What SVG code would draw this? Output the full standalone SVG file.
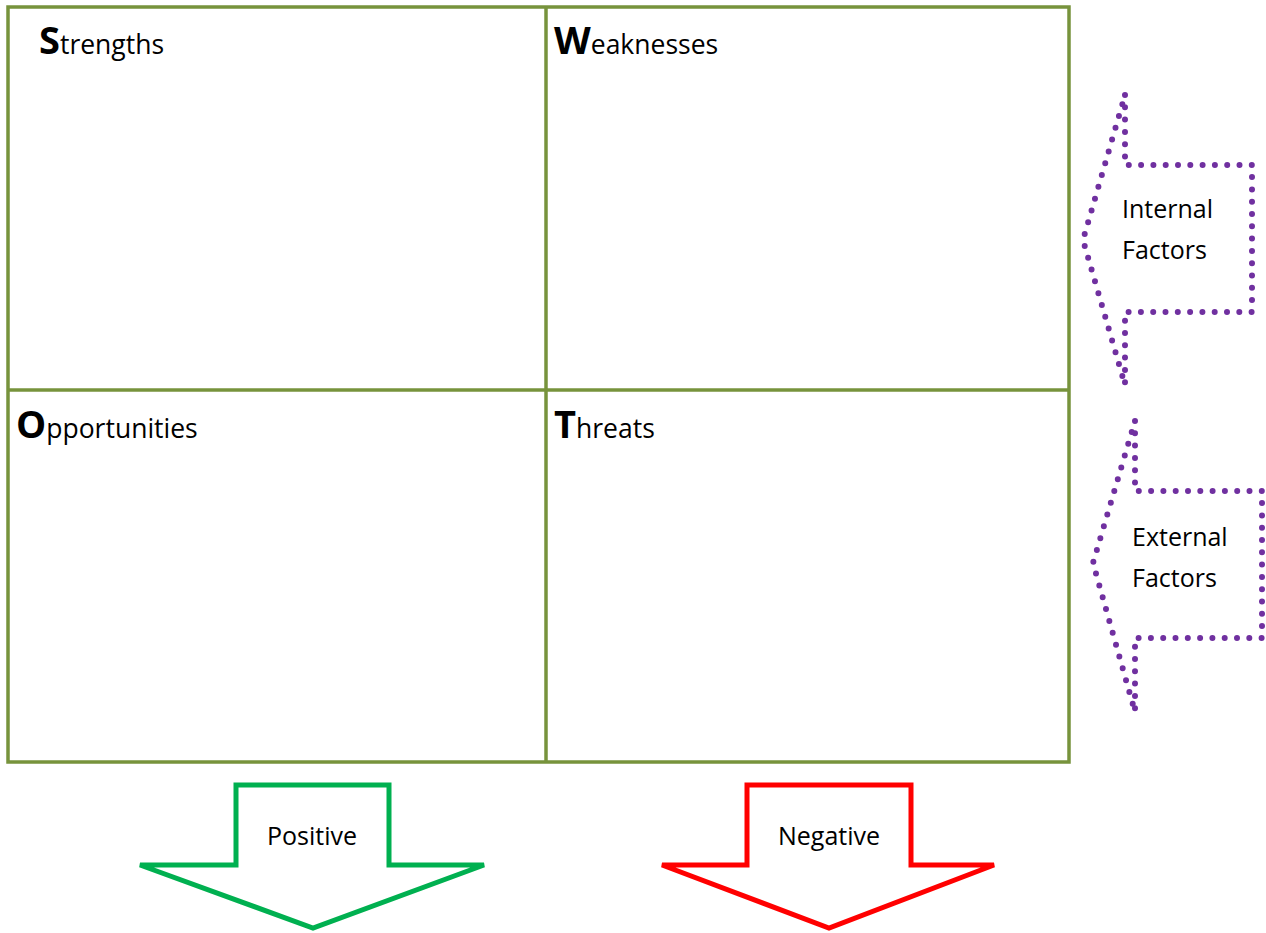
<svg xmlns="http://www.w3.org/2000/svg" width="1266" height="933" viewBox="0 0 1266 933">
<style>
.grid{fill:none;stroke:#77933C;stroke-width:3.5}
.big{font-family:"Open Sans","Liberation Sans",sans-serif;font-weight:bold;font-size:38px;fill:#000}
.lab{font-family:"Open Sans","Liberation Sans",sans-serif;font-size:26.5px;fill:#000}
.small{font-family:"Open Sans","Liberation Sans",sans-serif;font-size:25px;fill:#000}
.dot{fill:none;stroke:#7030A0;stroke-width:6;stroke-linecap:round;stroke-linejoin:round;stroke-dasharray:0 12.3}
.pos{fill:#fff;stroke:#00B050;stroke-width:5;stroke-linejoin:miter}
.neg{fill:#fff;stroke:#FF0000;stroke-width:5;stroke-linejoin:miter}
</style>
<rect width="1266" height="933" fill="#fff"/>
<g id="grid">
<rect class="grid" x="8" y="7" width="1061" height="755"/>
<line class="grid" x1="546" y1="7" x2="546" y2="762"/>
<line class="grid" x1="8" y1="390" x2="1069" y2="390"/>
</g>
<g id="strengths"><text x="39" y="54"><tspan class="big">S</tspan><tspan class="lab">trengths</tspan></text></g>
<g id="weaknesses"><text x="554" y="54"><tspan class="big">W</tspan><tspan class="lab">eaknesses</tspan></text></g>
<g id="opportunities"><text x="16" y="438"><tspan class="big">O</tspan><tspan class="lab">pportunities</tspan></text></g>
<g id="threats"><text x="554" y="438"><tspan class="big">T</tspan><tspan class="lab">hreats</tspan></text></g>
<g id="connectors">
<g id="internal">
<path class="dot" d="M1125,95 L1125,165 L1252,165 L1252,312 L1125,312 L1125,385 L1083,240 Z"/>
<text class="small" x="1122" y="218">Internal</text>
<text class="small" x="1122" y="259">Factors</text>
</g>
<g id="external">
<path class="dot" d="M1135,421 L1135,491 L1262,491 L1262,638 L1135,638 L1135,712 L1093,563 Z"/>
<text class="small" x="1132" y="546">External</text>
<text class="small" x="1132" y="587">Factors</text>
</g>
<g id="positive">
<path class="pos" d="M236,785 L389,785 L389,865 L484,865 L313,928 L140,865 L236,865 Z"/>
<text class="small" x="312" y="845" text-anchor="middle">Positive</text>
</g>
<g id="negative">
<path class="neg" d="M747,785 L911,785 L911,865 L994,865 L829,928 L662,865 L747,865 Z"/>
<text class="small" x="829" y="845" text-anchor="middle">Negative</text>
</g>
</g>
</svg>
